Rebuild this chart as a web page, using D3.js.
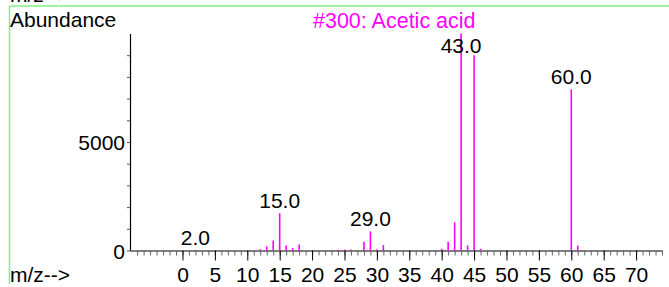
<!DOCTYPE html>
<html lang="en-us">
<meta charset="utf-8">
<head>
	<title>Acetic acid spectrum</title>
	<style>
	body { margin: 0; background: #fff; }
	text { font-family: "Liberation Sans", Arial, sans-serif; }
	.axis path { stroke: #555; stroke-width: 1.5px; }
	.peak { stroke: #ff00ff; stroke-width: 1.6px; }
	</style>
</head>
<body>
	<svg width="669" height="287"></svg>
	<script src="https://cdn.jsdelivr.net/npm/d3@7"></script>
	<script>

// spectrum data
var mz        = [2, 12, 13, 14, 15, 16, 17, 18, 24, 25, 26, 28, 29, 30, 31, 40, 41, 42, 43, 44, 45, 46, 60, 61];
var abundance = [15, 60, 190, 460, 1720, 230, 110, 280, 40, 40, 50, 400, 880, 50, 250, 80, 400, 1300, 9999, 230, 9000, 80, 7430, 230];
var labelMz   = [2, 15, 29, 43, 60];
var yTicks    = [0, 1000, 2000, 3000, 4000, 5000, 6000, 7000, 8000, 9000];
var yLabels   = [0, 5000];
var xMajor    = [0, 5, 10, 15, 20, 25, 30, 35, 40, 45, 50, 55, 60, 65, 70];
var xMinor    = d3.range(-7, 75);

var title = "#300: Acetic acid";
var fs = "21px";

var svg = d3.select("svg");

var x = d3.scaleLinear().domain([-8.1, 74]).range([130, 662]),
    y = d3.scaleLinear().domain([0, 10000]).range([250.5, 33.5]);

var peaks = mz.map(function(m, i) { return {mz: m, ab: abundance[i]}; });

// green frame
svg.append("line").attr("x1", 10).attr("x2", 669).attr("y1", 6).attr("y2", 6)
    .attr("stroke", "#80f080").attr("stroke-width", 1.5);
svg.append("line").attr("x1", 9.5).attr("x2", 9.5).attr("y1", 6).attr("y2", 284)
    .attr("stroke", "#80f080").attr("stroke-width", 1.5);

// cut off label from the panel above
svg.append("text").attr("x", 10).attr("y", 2).style("font-size", fs).text("m/z-->");

svg.append("text").attr("x", 10).attr("y", 26.5).style("font-size", fs).text("Abundance");
svg.append("text").attr("x", 313).attr("y", 28).style("font-size", "21.5px")
    .attr("fill", "#ff00ff").text(title);
svg.append("text").attr("x", 10).attr("y", 281.5).style("font-size", fs).text("m/z-->");

// y axis
var yAxis = svg.append("g")
    .attr("class", "axis")
    .attr("transform", "translate(130,0)")
    .call(d3.axisLeft(y).tickValues(yTicks).tickSize(3).tickSizeOuter(0)
      .tickFormat(function(d) { return yLabels.indexOf(d) >= 0 ? d : ""; }));
yAxis.select(".domain").style("stroke", "#000").style("stroke-width", "1.2px");
yAxis.selectAll(".tick line").attr("stroke", "#555");
yAxis.selectAll("text").style("font-size", fs).attr("fill", "#000").attr("x", -5).attr("dy", "0.36em");

// x axis: minor then major ticks
var xMinorAxis = svg.append("g")
    .attr("class", "axis")
    .attr("transform", "translate(0,250.5)")
    .call(d3.axisBottom(x).tickValues(xMinor).tickSize(5).tickSizeOuter(0).tickFormat(""));
xMinorAxis.selectAll(".tick line").attr("stroke", "#666");

var xMajorAxis = svg.append("g")
    .attr("transform", "translate(0,250.5)")
    .call(d3.axisBottom(x).tickValues(xMajor).tickSize(10).tickSizeOuter(0));
xMajorAxis.select(".domain").remove();
xMajorAxis.selectAll(".tick line").attr("stroke", "#000");
xMajorAxis.selectAll("text").style("font-size", fs).attr("fill", "#000").attr("y", 31).attr("dy", 0);

// peaks
svg.selectAll(".peak")
    .data(peaks)
  .enter().append("line")
    .attr("class", "peak")
    .attr("x1", function(d) { return x(d.mz); })
    .attr("x2", function(d) { return x(d.mz); })
    .attr("y1", y(0))
    .attr("y2", function(d) { return y(d.ab); });

// peak labels
svg.selectAll(".plabel")
    .data(peaks.filter(function(d) { return labelMz.indexOf(d.mz) >= 0; }))
  .enter().append("text")
    .attr("class", "plabel")
    .attr("x", function(d) { return x(d.mz); })
    .attr("y", function(d) { return Math.max(y(d.ab) - 5, 53); })
    .attr("text-anchor", "middle")
    .style("font-size", fs)
    .text(function(d) { return d.mz.toFixed(1); });

	</script>
</body>
</html>
